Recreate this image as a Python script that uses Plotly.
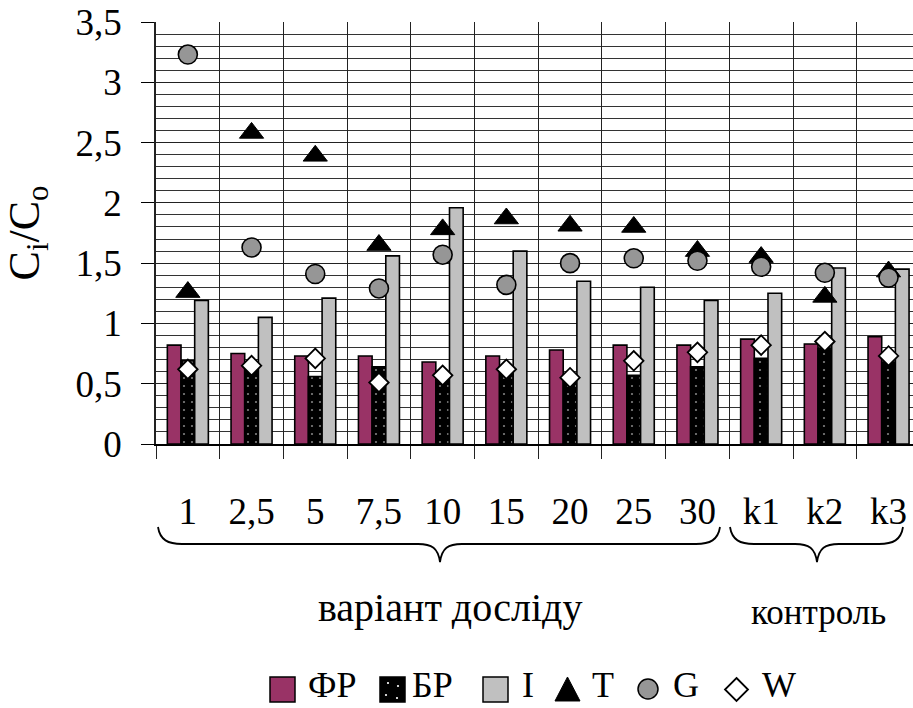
import plotly.graph_objects as go

# Categories: experiment variants and control samples
categories = ["1", "2,5", "5", "7,5", "10", "15", "20", "25", "30", "k1", "k2", "k3"]

# Bar series
fr_vals = [0.82, 0.75, 0.73, 0.73, 0.68, 0.73, 0.78, 0.82, 0.82, 0.87, 0.83, 0.89]
br_vals = [0.69, 0.62, 0.56, 0.64, 0.56, 0.60, 0.55, 0.57, 0.64, 0.71, 0.79, 0.68]
i_vals = [1.19, 1.05, 1.21, 1.56, 1.96, 1.60, 1.35, 1.30, 1.19, 1.25, 1.46, 1.45]

# Marker series
t_vals = [1.26, 2.58, 2.39, 1.65, 1.78, 1.87, 1.81, 1.80, 1.60, 1.55, 1.22, 1.43]
g_vals = [3.23, 1.63, 1.41, 1.29, 1.57, 1.32, 1.50, 1.54, 1.52, 1.47, 1.42, 1.38]
w_vals = [0.62, 0.65, 0.71, 0.51, 0.57, 0.62, 0.55, 0.69, 0.76, 0.82, 0.85, 0.73]

FONT = "Liberation Serif, Times New Roman, serif"
COL_FR, COL_BR, COL_I, COL_G = "#993366", "black", "#C0C0C0", "#969696"
W, H = 913, 708
L, R, T, B = 156, 0, 22, 264
PW, PH = W - L - R, H - T - B
CAT_PX = 63.7  # width of one category slot


def paper(xp, yp):
    return (xp - L) / PW, (T + PH - yp) / PH


def path_from_px(points):
    out = []
    for cmd, pts in points:
        coords = " ".join("%.5f,%.5f" % paper(x, y) for x, y in pts)
        out.append(cmd + coords)
    return " ".join(out)


def brace(x0, x1, xt, ytop=527, yh=544, ytip=562):
    return path_from_px([
        ("M", [(x0, ytop)]),
        ("C", [(x0 + 2, yh - 4), (x0 + 10, yh), (x0 + 24, yh)]),
        ("L", [(xt - 22, yh)]),
        ("C", [(xt - 8, yh), (xt - 2, yh + 4), (xt, ytip)]),
        ("C", [(xt + 2, yh + 4), (xt + 8, yh), (xt + 22, yh)]),
        ("L", [(x1 - 24, yh)]),
        ("C", [(x1 - 10, yh), (x1 - 2, yh - 4), (x1, ytop)]),
    ])


def rect_px(x0, y0, x1, y1, fill, lw=1.5):
    a, b = paper(x0, y1)
    c, d = paper(x1, y0)
    return dict(type="rect", xref="paper", yref="paper", x0=a, y0=b, x1=c, y1=d,
                fillcolor=fill, line=dict(color="black", width=lw), layer="above")


def circle_px(cx, cy, r, fill, lw=1.5):
    a, b = paper(cx - r, cy + r)
    c, d = paper(cx + r, cy - r)
    return dict(type="circle", xref="paper", yref="paper", x0=a, y0=b, x1=c, y1=d,
                fillcolor=fill, line=dict(color="black", width=lw), layer="above")


def poly_px(pts, fill, lw=1.5):
    p = path_from_px([("M", [pts[0]])] + [("L", [q]) for q in pts[1:]]) + " Z"
    return dict(type="path", xref="paper", yref="paper", path=p,
                fillcolor=fill, line=dict(color="black", width=lw), layer="above")


fig = go.Figure()

bar_line = dict(color="black", width=1.6)
fig.add_trace(go.Bar(x=categories, y=fr_vals, name="ФР",
                     marker=dict(color=COL_FR, line=bar_line)))
fig.add_trace(go.Bar(x=categories, y=br_vals, name="БР",
                     marker=dict(color=COL_BR, line=bar_line,
                                 pattern=dict(shape=".", bgcolor="black", fgcolor="white",
                                              size=8, solidity=0.06))))
fig.add_trace(go.Bar(x=categories, y=i_vals, name="I",
                     marker=dict(color=COL_I, line=bar_line)))
fig.add_trace(go.Scatter(x=categories, y=t_vals, mode="markers", name="T",
                         marker=dict(symbol="triangle-up", size=21, color="black",
                                     line=dict(color="black", width=1))))
fig.add_trace(go.Scatter(x=categories, y=g_vals, mode="markers", name="G",
                         marker=dict(symbol="circle", size=19, color=COL_G,
                                     line=dict(color="black", width=1.6))))
fig.add_trace(go.Scatter(x=categories, y=w_vals, mode="markers", name="W",
                         marker=dict(symbol="diamond", size=15, color="white",
                                     line=dict(color="black", width=1.8))))

x_hi = -0.5 + PW / CAT_PX

# Legend row: swatches and labels
LEG_Y = 689
LEG_TEXT_Y = 685
legend_shapes = [
    rect_px(270, 677, 295, 702, COL_FR),
    rect_px(380, 677, 405, 702, COL_BR),
    rect_px(483, 677, 508, 702, COL_I),
    poly_px([(567.5, 677), (580, 701), (555, 701)], "black", 1),
    circle_px(648, LEG_Y, 10, COL_G),
    poly_px([(736.5, 678), (748, 689.5), (736.5, 701), (725, 689.5)], "white", 1.8),
]
for dx, dy in [(388, 683), (398, 686), (386, 695), (397, 698)]:
    legend_shapes.append(circle_px(dx, dy, 1.1, "white", 0))

legend_labels = [("ФР", 307), ("БР", 411), ("I", 521), ("T", 591), ("G", 672), ("W", 761)]
legend_annots = [
    dict(text=t, xref="paper", yref="paper", x=paper(xl, 0)[0], y=paper(0, LEG_TEXT_Y)[1],
         xanchor="left", yanchor="middle", showarrow=False, borderpad=0,
         font=dict(family=FONT, size=36))
    for t, xl in legend_labels
]

fig.update_layout(
    width=W, height=H,
    margin=dict(l=L, r=R, t=T, b=B, pad=0),
    paper_bgcolor="white", plot_bgcolor="white",
    font=dict(family=FONT, size=36, color="black"),
    barmode="group", bargap=0.356, bargroupgap=0,
    showlegend=False,
    xaxis=dict(type="category", range=[-0.5, x_hi], tickson="boundaries",
               showgrid=True, gridcolor="#222", gridwidth=1,
               ticks="outside", ticklen=13, tickcolor="#222", tickwidth=1,
               showline=True, linecolor="black", linewidth=1.5,
               tickfont=dict(family=FONT, size=37), ticklabelstandoff=34,
               fixedrange=True),
    yaxis=dict(range=[0, 3.5], dtick=0.5, tick0=0,
               showgrid=True, gridcolor="#222", gridwidth=1,
               minor=dict(dtick=0.1, showgrid=True, gridcolor="#333", gridwidth=1),
               ticks="outside", ticklen=13, tickcolor="black", tickwidth=1,
               showline=True, linecolor="#222", linewidth=1.5,
               zeroline=False, tickformat=".1~f",
               tickfont=dict(family=FONT, size=37), ticklabelstandoff=12,
               title=dict(text="C<sub>i</sub>/C<sub>o</sub>", standoff=26,
                          font=dict(family=FONT, size=44)),
               fixedrange=True),
    separators=", ",
    shapes=[
        dict(type="path", xref="paper", yref="paper", path=brace(158, 720, 440),
             line=dict(color="black", width=1.8)),
        dict(type="path", xref="paper", yref="paper", path=brace(730, 903, 817),
             line=dict(color="black", width=1.8)),
    ] + legend_shapes,
    annotations=[
        dict(text="варіант досліду", xref="paper", yref="paper",
             x=paper(450, 0)[0], y=paper(0, 607)[1], xanchor="center", yanchor="middle",
             showarrow=False, font=dict(family=FONT, size=40)),
        dict(text="контроль", xref="paper", yref="paper",
             x=paper(818, 0)[0], y=paper(0, 612)[1], xanchor="center", yanchor="middle",
             showarrow=False, font=dict(family=FONT, size=35)),
    ] + legend_annots,
)

fig.write_html("out.html", config={"displayModeBar": False})
